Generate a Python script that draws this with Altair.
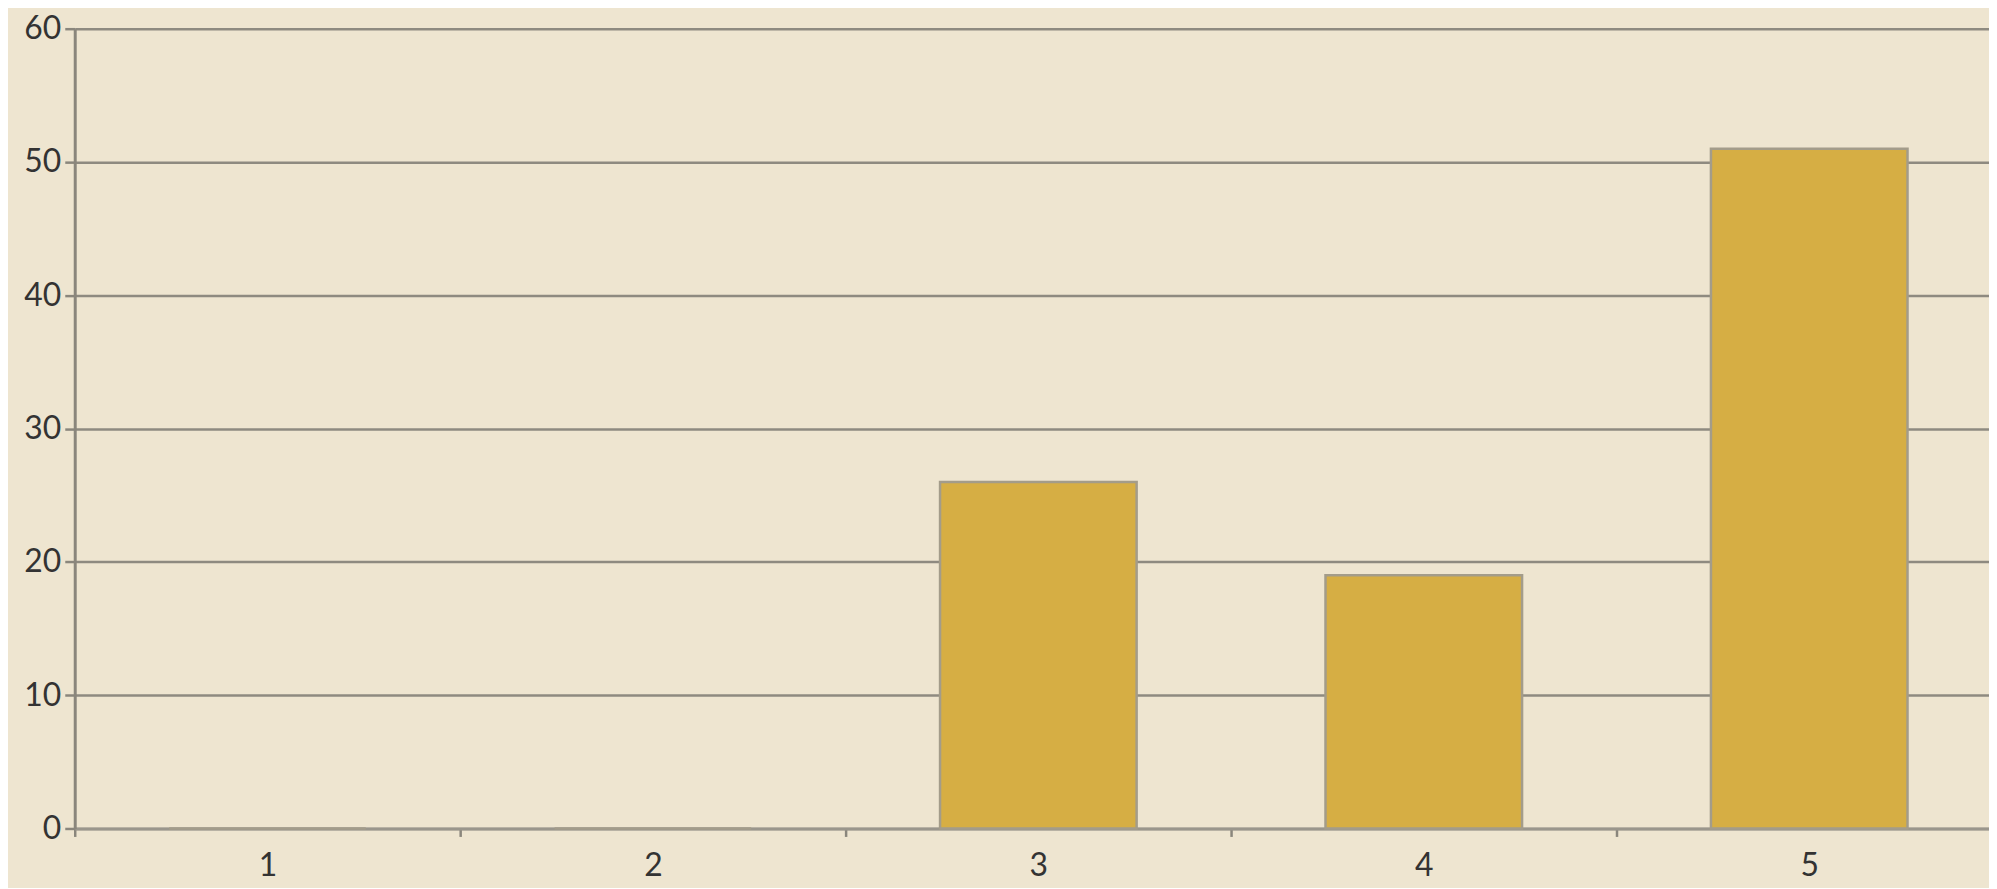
import altair as alt
import pandas as pd

categories = ["1", "2", "3", "4", "5"]
values = [0, 0, 26, 19, 51]
y_ticks = [0, 10, 20, 30, 40, 50, 60]

df = pd.DataFrame({"cat": categories, "val": values})

FONT = "Lato"

chart = alt.Chart(df).mark_bar(
    color="#d6ae44", stroke="#a39c8a", strokeWidth=2.5
).encode(
    x=alt.X("cat:N", sort=categories,
            scale=alt.Scale(range=[0, 1935], paddingInner=0.49, paddingOuter=0.245),
            axis=alt.Axis(title=None, labelAngle=0, tickOffset=-193.5, labelOffset=193.5,
                          domainColor="#9a968c", domainWidth=3,
                          tickColor="#8a867c", tickWidth=2.5, tickSize=8,
                          labelFont=FONT, labelFontSize=32, labelColor="#333333",
                          labelPadding=14, grid=False)),
    y=alt.Y("val:Q", scale=alt.Scale(domain=[0, 60], nice=False),
            axis=alt.Axis(title=None, values=y_ticks,
                          domainColor="#8a867c", domainWidth=3,
                          tickColor="#8a867c", tickWidth=2.5, tickSize=10,
                          labelFont=FONT, labelFontSize=32, labelColor="#333333",
                          labelPadding=4, grid=True, gridColor="#8e8a80",
                          gridWidth=2.5, gridOpacity=1)),
).properties(
    width=1922, height=803,
    background="#eee5d0",
    padding={"left": 67, "top": 19, "right": 0, "bottom": 58},
    autosize=alt.AutoSizeParams(type="none"),
).configure_view(stroke=None)

chart.save("out.html", embed_options={"renderer": "svg", "actions": False})
